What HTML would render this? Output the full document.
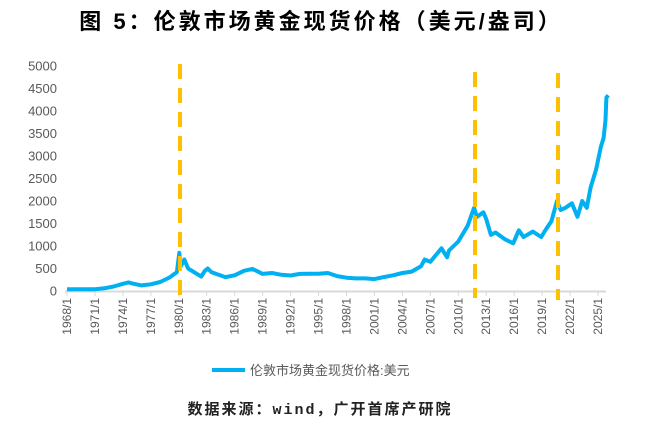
<!DOCTYPE html>
<html><head><meta charset="utf-8"><style>
body{margin:0;background:#fff;width:645px;height:426px;overflow:hidden}
</style></head><body>
<svg id="s" width="645" height="426" xmlns="http://www.w3.org/2000/svg" font-family="Liberation Sans, Noto Sans CJK SC, sans-serif">
<text x="321" y="29" text-anchor="middle" font-size="22" font-weight="bold" letter-spacing="3" font-family="Liberation Sans, Noto Sans CJK SC, sans-serif" fill="#000">图 5：伦敦市场黄金现货价格（美元/盎司）</text>
<g id="yl" font-size="13" fill="#595959" text-anchor="end"></g>
<line x1="65" y1="291.5" x2="606" y2="291.5" stroke="#d9d9d9" stroke-width="2"/>
<g id="xt"></g>
<polyline id="pl" fill="none" stroke="#00b0f0" stroke-width="4" stroke-linejoin="round"/>
<g stroke="#ffc000" stroke-width="4" stroke-dasharray="15,9">
<line x1="180" y1="64" x2="180" y2="298"/>
<line x1="475" y1="72" x2="475" y2="298"/>
<line x1="558" y1="73" x2="558" y2="300"/>
</g>
<line x1="212" y1="370" x2="245" y2="370" stroke="#00b0f0" stroke-width="4"/>
<text x="250" y="375" font-size="13" fill="#595959">伦敦市场黄金现货价格:美元</text>
<text x="320" y="414" text-anchor="middle" font-size="15" font-weight="bold" letter-spacing="2" font-family="Liberation Mono, Noto Sans CJK SC, monospace" fill="#222">数据来源：wind，广开首席产研院</text>
</svg>
<script>
var ns="http://www.w3.org/2000/svg";
function X(y){return 67+(y-1968)*9.316}function Y(p){return 291-p*0.045}
var yl=document.getElementById('yl');
for(var v=0;v<=5000;v+=500){var t=document.createElementNS(ns,'text');t.setAttribute('x',57);t.setAttribute('y',Y(v)+4.5);t.textContent=v;yl.appendChild(t);}
var xt=document.getElementById('xt');
for(var y=1968;y<=2025;y+=3){var x=X(y);var l=document.createElementNS(ns,'line');l.setAttribute('x1',x);l.setAttribute('x2',x);l.setAttribute('y1',291);l.setAttribute('y2',296);l.setAttribute('stroke','#d9d9d9');xt.appendChild(l);
var t=document.createElementNS(ns,'text');t.setAttribute('transform','translate('+(x+4)+',298) rotate(-90)');t.setAttribute('text-anchor','end');t.setAttribute('font-size','12');t.setAttribute('fill','#595959');t.textContent=y+'/1';xt.appendChild(t);}
var d=[1968,40,1971,40,1972,60,1973,100,1974,160,1974.6,190,1975,170,1976,125,1977,150,1978,200,1979,300,1979.8,420,1980.05,850,1980.2,550,1980.6,700,1981,500,1982.4,320,1982.8,450,1983.1,500,1983.5,420,1984,380,1985,310,1986,350,1987,450,1987.9,490,1988.5,430,1989,380,1990,400,1991,360,1992,345,1993,380,1994,385,1995,385,1996,400,1997,330,1998,295,1999,280,2000,280,2001,265,2002,310,2003,350,2004,400,2005,430,2006,550,2006.4,700,2007,650,2008.2,950,2008.8,750,2009,900,2010,1100,2011,1450,2011.7,1850,2012,1650,2012.7,1750,2013,1600,2013.5,1250,2014,1300,2015,1150,2015.9,1060,2016.5,1350,2017,1200,2018,1320,2018.9,1200,2019.5,1400,2020,1550,2020.6,2000,2021,1800,2021.5,1850,2022.2,1950,2022.8,1650,2023.3,2000,2023.8,1850,2024.2,2300,2024.8,2700,2025.3,3200,2025.6,3400,2025.8,3800,2025.9,4300,2026.1,4350];
var p=[];for(var i=0;i<d.length;i+=2){p.push(X(d[i]).toFixed(1)+','+Y(d[i+1]).toFixed(1));}
document.getElementById('pl').setAttribute('points',p.join(' '));
</script>
</body></html>
